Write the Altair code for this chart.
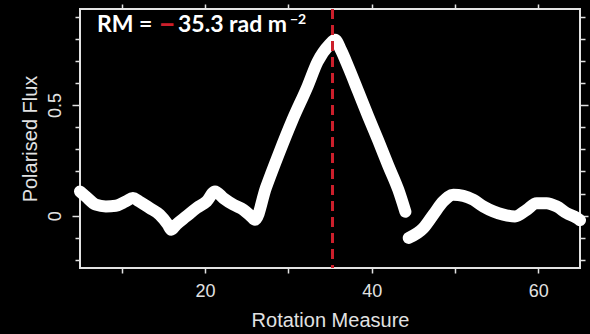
import altair as alt
import pandas as pd

# Faraday depth spectrum: rotation measure vs polarised flux (two segments, gap near 44)
rm_left = [5.0, 5.7, 6.9, 8.1, 9.3, 10.5, 11.35, 12.1, 13.35, 14.55, 15.55, 15.95,
           16.55, 17.75, 19.0, 20.2, 21.2, 22.2, 23.4, 24.6, 25.6, 26.0, 27.3, 28.9,
           30.5, 32.3, 33.5, 34.9, 35.6, 36.3, 37.2, 38.4, 39.6, 40.8, 42.0, 43.2, 44.05]
flux_left = [0.11, 0.087, 0.05, 0.042, 0.045, 0.065, 0.08, 0.065, 0.035, 0.005, -0.04, -0.063,
             -0.04, -0.003, 0.035, 0.065, 0.11, 0.08, 0.05, 0.027, -0.005, -0.018, 0.125, 0.284,
             0.433, 0.584, 0.695, 0.772, 0.795, 0.75, 0.672, 0.56, 0.447, 0.339, 0.226, 0.117, 0.018]
rm_right = [44.45, 46.2, 47.4, 48.6, 49.8, 51.0, 52.2, 53.4, 54.6, 55.8, 57.2, 58.6,
            59.8, 61.0, 62.2, 63.4, 64.6, 65.0]
flux_right = [-0.10, -0.056, 0.005, 0.065, 0.095, 0.09, 0.072, 0.042, 0.02, 0.005, -0.003, 0.027,
              0.057, 0.057, 0.042, 0.012, -0.01, -0.02]

peak_rm = [35.3]
x_ticks = [10, 20, 30, 40, 50, 60]
y_ticks = [-0.2, -0.1, 0, 0.1, 0.2, 0.3, 0.4, 0.5, 0.6, 0.7, 0.8, 0.9]
x_domain = [5, 65]
y_domain = [-0.236, 0.934]

curve = pd.DataFrame({
    "rm": rm_left + rm_right,
    "flux": flux_left + flux_right,
    "segment": ["a"] * len(rm_left) + ["b"] * len(rm_right),
})

FG = "#e2e2e2"
RED = "#cc1f2b"
AXIS_FONT = "Liberation Sans"
TITLE_FONT = "Lato"

xscale = alt.Scale(domain=x_domain, nice=False, zero=False)
yscale = alt.Scale(domain=y_domain, nice=False, zero=False)

is_zero = "abs(datum.value) < 1e-6"
is_half = "abs(datum.value - 0.5) < 1e-6"
major_y = f"{is_zero} || {is_half}"
y_tick_size = {"condition": {"test": major_y, "value": 8}, "value": 5}

common_axis = dict(domain=False, tickColor=FG, tickWidth=1.5, grid=False)

line = alt.Chart(curve).mark_line(
    color="white", strokeWidth=12, strokeCap="round", strokeJoin="round",
    interpolate="monotone"
).encode(
    x=alt.X("rm:Q", scale=xscale, axis=alt.Axis(
        orient="bottom", values=x_ticks, tickSize=5,
        labelExpr="datum.value % 20 == 0 ? datum.label : ''",
        labelFont=AXIS_FONT, labelFontSize=18, labelColor=FG, labelPadding=9,
        title="Rotation Measure", titleFont=AXIS_FONT, titleFontSize=20,
        titleFontWeight="normal", titleColor=FG, titlePadding=10, **common_axis)),
    y=alt.Y("flux:Q", scale=yscale, axis=alt.Axis(
        orient="left", values=y_ticks, tickSize=y_tick_size,
        labelExpr=f"{is_zero} ? '0' : ({is_half} ? '0.5' : '')", labelAngle=-90,
        labelFont=AXIS_FONT, labelFontSize=18, labelColor=FG, labelPadding=8,
        title="Polarised Flux", titleFont=AXIS_FONT, titleFontSize=20,
        titleFontWeight="normal", titleColor=FG, titlePadding=6, **common_axis)),
    detail="segment:N",
)

# ticks along the top and right edges of the frame
frame = alt.Chart(curve).mark_point(opacity=0).encode(
    x=alt.X("rm:Q", scale=xscale, axis=alt.Axis(
        orient="top", values=x_ticks, tickSize=5, labels=False, title="", **common_axis)),
    y=alt.Y("flux:Q", scale=yscale, axis=alt.Axis(
        orient="right", values=y_ticks, tickSize=y_tick_size, labels=False, title="",
        **common_axis)),
)

rule = alt.Chart(pd.DataFrame({"rm": peak_rm})).mark_rule(
    color=RED, strokeWidth=3, strokeDash=[10, 6]
).encode(x=alt.X("rm:Q", scale=xscale, axis=None))

label_df = pd.DataFrame({"a": [0]})
txt = dict(font=TITLE_FONT, align="left", baseline="alphabetic", fontWeight="bold")
t1 = alt.Chart(label_df).mark_text(text="RM =", color="white", fontSize=23, **txt).encode(
    x=alt.value(17), y=alt.value(23))
t2 = alt.Chart(label_df).mark_text(text="\u2212", color=RED, fontSize=28, **txt).encode(
    x=alt.value(79), y=alt.value(25))
t3 = alt.Chart(label_df).mark_text(text="35.3 rad m", color="white", fontSize=23, **txt).encode(
    x=alt.value(98), y=alt.value(23))
t4 = alt.Chart(label_df).mark_text(text="\u22122", color="white", fontSize=14, **txt).encode(
    x=alt.value(210), y=alt.value(15))

chart = alt.layer(line, rule, frame, t1, t2, t3, t4).resolve_axis(
    x="independent", y="independent"
).properties(
    width=500, height=259,
    background="black",
    autosize=alt.AutoSizeParams(type="none"),
    padding={"left": 80, "top": 9, "right": 10, "bottom": 66},
).configure_view(stroke=FG, strokeWidth=2)

chart.save("out.html", embed_options={"renderer": "svg", "actions": False})
